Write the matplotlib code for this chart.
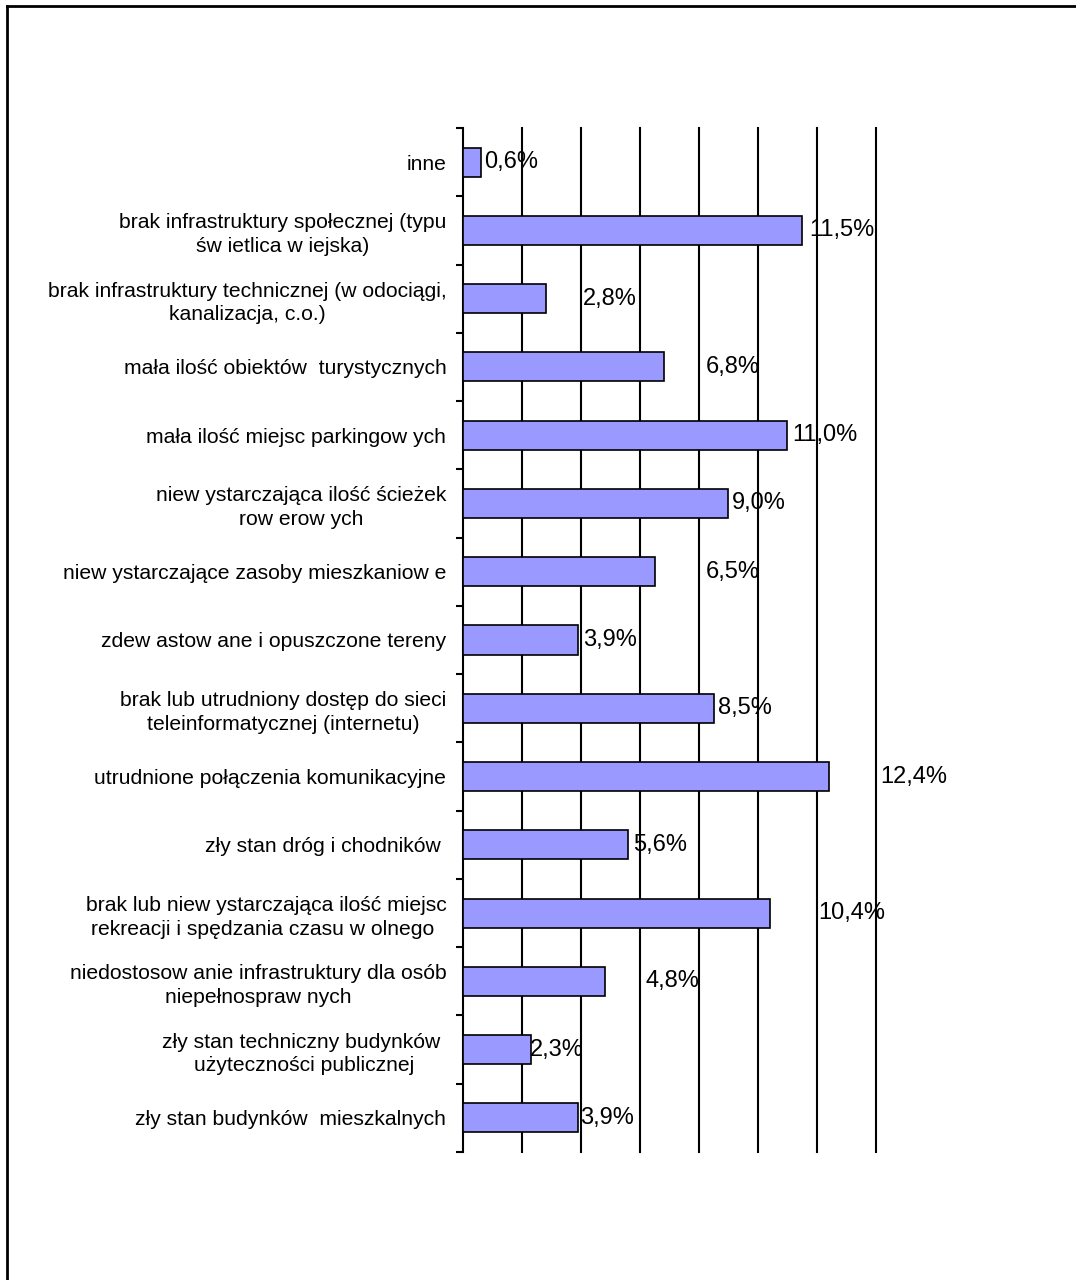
import numpy as np
import matplotlib
matplotlib.use("Agg")
import matplotlib.pyplot as plt
from matplotlib.lines import Line2D
from matplotlib.ticker import FixedLocator, NullFormatter

categories = [
    "inne",
    "brak infrastruktury społecznej (typu\nśw ietlica w iejska)",
    "brak infrastruktury technicznej (w odociągi,\nkanalizacja, c.o.)",
    "mała ilość obiektów  turystycznych",
    "mała ilość miejsc parkingow ych",
    "niew ystarczająca ilość ścieżek\nrow erow ych",
    "niew ystarczające zasoby mieszkaniow e",
    "zdew astow ane i opuszczone tereny",
    "brak lub utrudniony dostęp do sieci\nteleinformatycznej (internetu)",
    "utrudnione połączenia komunikacyjne",
    "zły stan dróg i chodników ",
    "brak lub niew ystarczająca ilość miejsc\nrekreacji i spędzania czasu w olnego ",
    "niedostosow anie infrastruktury dla osób\nniepełnospraw nych",
    "zły stan techniczny budynków \nużyteczności publicznej",
    "zły stan budynków  mieszkalnych",
]
values = [0.6, 11.5, 2.8, 6.8, 11.0, 9.0, 6.5, 3.9, 8.5, 12.4, 5.6, 10.4, 4.8, 2.3, 3.9]
value_labels = ["0,6%", "11,5%", "2,8%", "6,8%", "11,0%", "9,0%", "6,5%", "3,9%",
                "8,5%", "12,4%", "5,6%", "10,4%", "4,8%", "2,3%", "3,9%"]

# where the data labels sit (x, in % units), as in the original layout
label_x = [0.72, 11.75, 4.07, 8.24, 11.15, 9.12, 8.24, 4.07, 8.64, 14.14, 5.76, 12.03, 6.17, 2.27, 3.97]

plt.rcParams['font.family'] = ['Liberation Sans', 'DejaVu Sans']

fig = plt.figure(figsize=(10.76, 12.8), dpi=100)
ax = fig.add_axes([0.4303, 0.1, 0.3838, 0.8])

y = np.arange(len(categories))
ax.barh(y, values, height=0.425, color='#9999FF', edgecolor='black', linewidth=1.2, zorder=3)

for yi, lx, txt in zip(y, label_x, value_labels):
    ax.text(lx, yi, txt, ha='left', va='center', fontsize=17, zorder=4)

ax.set_xlim(0, 14)
ax.set_ylim(len(categories) - 0.5, -0.5)

ax.set_xticks([])
for xv in range(2, 15, 2):
    ax.axvline(xv, color='black', linewidth=1.5, zorder=1, clip_on=False)

ax.set_yticks(y)
ax.set_yticklabels(categories, fontsize=15.2, multialignment='center', linespacing=1.3)
ax.tick_params(axis='y', which='major', length=0, pad=12)
ax.yaxis.set_minor_locator(FixedLocator(np.arange(-0.5, len(categories), 1)))
ax.yaxis.set_minor_formatter(NullFormatter())
ax.tick_params(axis='y', which='minor', length=5, width=1.5, direction='out')

for side in ['top', 'right', 'bottom']:
    ax.spines[side].set_visible(False)
ax.spines['left'].set_linewidth(1.5)

# frame of the chart object (only top and left edges show in the crop)
fig.add_artist(Line2D([7 / 1076, 1.0], [1 - 6 / 1280, 1 - 6 / 1280], transform=fig.transFigure,
                      color='black', linewidth=2))
fig.add_artist(Line2D([7 / 1076, 7 / 1076], [0.0, 1 - 6 / 1280], transform=fig.transFigure,
                      color='black', linewidth=2))

fig.savefig('out.png', dpi=100)
